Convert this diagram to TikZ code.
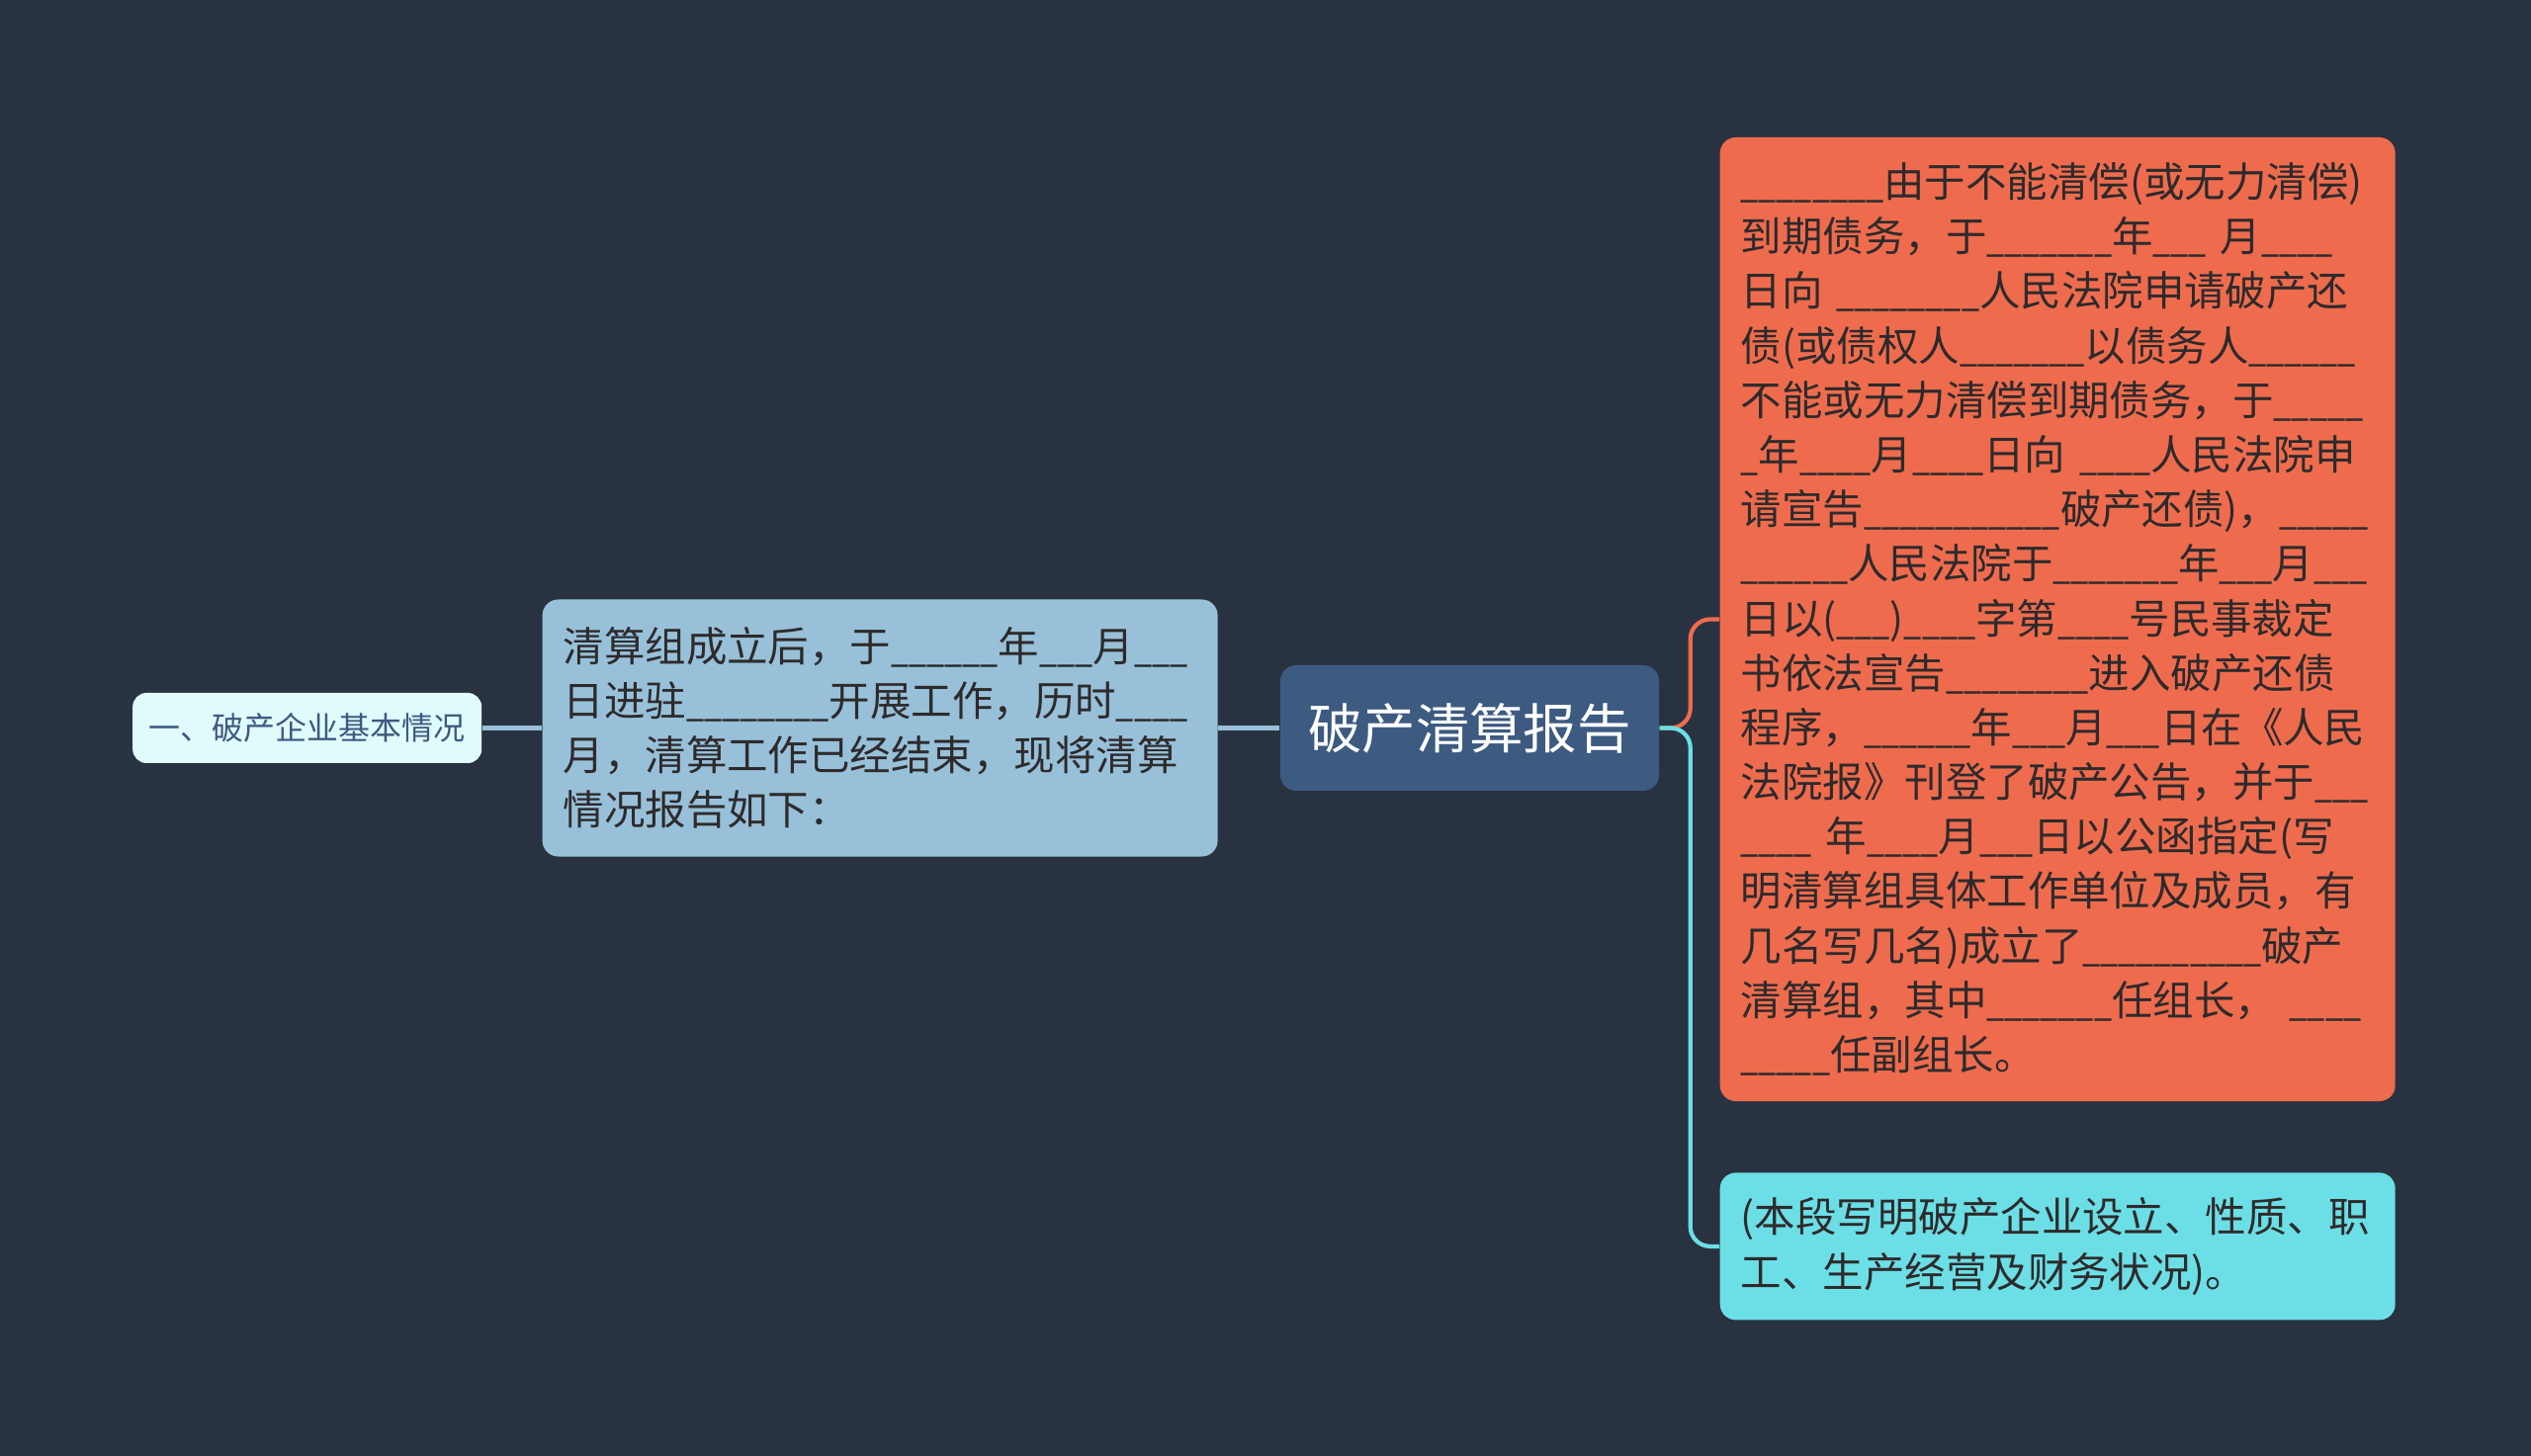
\documentclass[tikz,border=0pt]{standalone}
\usepackage{fontspec}
\setmainfont{Noto Sans CJK SC}
\newfontfamily\narrowfont[FakeStretch=0.78]{Noto Sans CJK SC}
\usetikzlibrary{positioning}

\definecolor{bgdark}{HTML}{293241}
\definecolor{rootblue}{HTML}{3D5A80}
\definecolor{lightblue}{HTML}{98C1D9}
\definecolor{paleblue}{HTML}{E0FBFC}
\definecolor{coral}{HTML}{EE6C4D}
\definecolor{aqua}{HTML}{6CDFE6}
\definecolor{inkdark}{HTML}{2E2A2C}

\newcommand{\blanks}[1]{{\narrowfont\foreach \n in {1,...,#1}{\_}}}

\begin{document}
\begin{tikzpicture}[
    every node/.style={font=\fontsize{11.8pt}{15.7pt}\selectfont},
    rootbox/.style={fill=rootblue, text=white, rounded corners=0.16cm, minimum width=3.83cm, minimum height=1.27cm, font=\fontsize{15.5pt}{18pt}\selectfont},
    leafbox/.style={rounded corners=0.16cm, text width=6.41cm, inner xsep=0.21cm, align=left, text=inkdark},
    basicbox/.style={fill=paleblue, text=rootblue, rounded corners=0.14cm, minimum width=3.53cm, minimum height=0.71cm, font=\fontsize{9.1pt}{11pt}\selectfont},
    link/.style={line width=1.2pt}
]
    % Background
    \fill [bgdark] (0,0) rectangle (25.6,-14.73);

    % Nodes
    \node (root) [rootbox] at (14.865,-7.365) {破产清算报告};
    \node (intro) [leafbox, fill=lightblue, minimum height=2.60cm, left=0.62cm of root] {清算组成立后，于\blanks{6}年\blanks{3}月\blanks{3}\\日进驻\blanks{8}开展工作，历时\blanks{4}\\月，清算工作已经结束，现将清算\\情况报告如下：};
    \node (basic) [basicbox, left=0.6cm of intro] {一、破产企业基本情况};
    \node (report) [leafbox, fill=coral, minimum height=9.75cm, anchor=west] at (17.39,-6.265) {\blanks{8}由于不能清偿(或无力清偿)\\到期债务，于\blanks{7}年\blanks{3}~月\blanks{4}\\日向~\blanks{8}人民法院申请破产还\\债(或债权人\blanks{7}以债务人\blanks{6}\\不能或无力清偿到期债务，于\blanks{5}\\\blanks{1}年\blanks{4}月\blanks{4}日向~\blanks{4}人民法院申\\请宣告\blanks{11}破产还债)，\blanks{5}\\\blanks{6}人民法院于\blanks{7}年\blanks{3}月\blanks{3}\\日以(\blanks{3})\blanks{4}字第\blanks{4}号民事裁定\\书依法宣告\blanks{8}进入破产还债\\程序，\blanks{6}年\blanks{3}月\blanks{3}日在《人民\\法院报》刊登了破产公告，并于\blanks{3}\\\blanks{4}~年\blanks{4}月\blanks{3}日以公函指定(写\\明清算组具体工作单位及成员，有\\几名写几名)成立了\blanks{10}破产\\清算组，其中\blanks{7}任组长，~\blanks{4}\\\blanks{5}任副组长。};
    \node (note) [leafbox, fill=aqua, minimum height=1.49cm, below=0.71cm of report] {(本段写明破产企业设立、性质、职\\工、生产经营及财务状况)。};

    % Path
    \draw [link, lightblue] (basic) -- (intro);
    \draw [link, lightblue] (intro) -- (root);
    \draw [link, coral, rounded corners=0.2cm] (root.east) -- ++(0.31,0) |- (report.west);
    \draw [link, aqua, rounded corners=0.2cm] (root.east) -- ++(0.31,0) |- (note.west);
\end{tikzpicture}
\end{document}
